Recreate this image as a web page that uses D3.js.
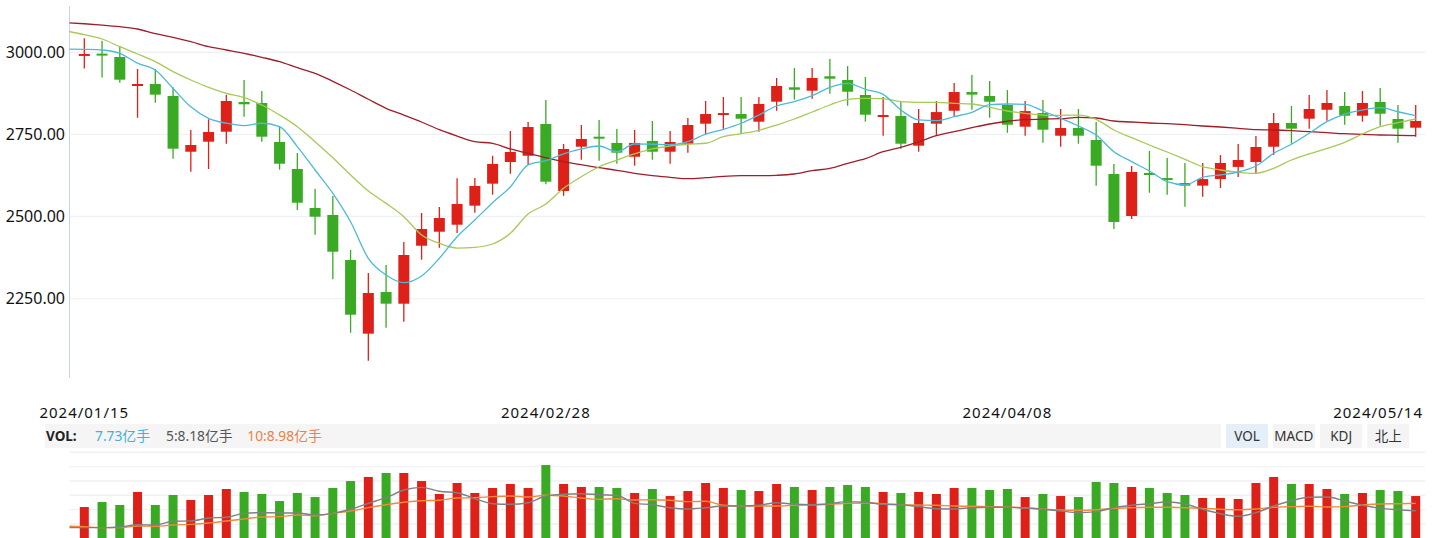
<!DOCTYPE html>
<html><head><meta charset="utf-8">
<script src="https://cdn.jsdelivr.net/npm/d3@7/dist/d3.min.js"></script>
<style>html,body{margin:0;padding:0;background:#fff;overflow:hidden}svg{display:block}</style>
</head><body><svg id="c" width="1438" height="538"></svg>
<script>
const dates = ["2024/01/15","2024/01/16","2024/01/17","2024/01/18","2024/01/19","2024/01/22","2024/01/23","2024/01/24","2024/01/25","2024/01/26","2024/01/29","2024/01/30","2024/01/31",
"2024/02/01","2024/02/02","2024/02/05","2024/02/06","2024/02/07","2024/02/08","2024/02/19","2024/02/20","2024/02/21","2024/02/22","2024/02/23","2024/02/26","2024/02/27","2024/02/28","2024/02/29",
"2024/03/01","2024/03/04","2024/03/05","2024/03/06","2024/03/07","2024/03/08","2024/03/11","2024/03/12","2024/03/13","2024/03/14","2024/03/15","2024/03/18","2024/03/19","2024/03/20","2024/03/21","2024/03/22","2024/03/25","2024/03/26","2024/03/27","2024/03/28","2024/03/29",
"2024/04/01","2024/04/02","2024/04/03","2024/04/08","2024/04/09","2024/04/10","2024/04/11","2024/04/12","2024/04/15","2024/04/16","2024/04/17","2024/04/18","2024/04/19","2024/04/22","2024/04/23","2024/04/24","2024/04/25","2024/04/26","2024/04/29","2024/04/30",
"2024/05/06","2024/05/07","2024/05/08","2024/05/09","2024/05/10","2024/05/13","2024/05/14"];

const open  = [2993,2996,2985.7,2901,2903.5,2867,2697.3,2727.8,2758.2,2848.7,2845.6,2726.9,2644.7,2526,2504.6,2367.5,2143.2,2270,2234.5,2411,2453.7,2475,2533,2600,2666,2685,2781.7,2577.7,2712.5,2743,2724,2682,2730,2697.3,2721.7,2782.6,2810,2812,2788.7,2849.6,2893.4,2883,2927,2915.7,2870,2804,2806,2715.6,2782.6,2822,2879,2867,2839.5,2773.5,2815,2746,2769.5,2733,2629.4,2501.5,2632.5,2617,2602,2594,2614,2651,2666,2712.5,2784.7,2797.8,2825,2836.5,2807,2848.7,2797,2770.4];
const high  = [3042.6,3035,3018,2949,2949,2893.4,2763.4,2796,2870.9,2915.7,2882,2772.5,2693.4,2584.6,2562.4,2398,2328,2352.3,2422.4,2510.7,2529,2616.3,2617,2685,2760.4,2787.8,2854.8,2720.8,2778.6,2793.9,2766.4,2763.4,2790.8,2760.4,2800,2851.7,2864,2864,2864,2921.7,2952,2952,2979.6,2958,2924.8,2864,2849.6,2827.4,2851.7,2906.5,2931,2912.6,2885,2851.7,2854.8,2827.4,2827.4,2787.8,2660,2653.8,2699.5,2678,2663,2663,2687,2721,2745,2815,2836.5,2870,2885,2879,2882,2891.3,2839.5,2839.5];
const low   = [2951,2923,2907,2801,2846.5,2676,2636.4,2644.7,2721.7,2804,2727.8,2642.5,2519.8,2444.6,2308.8,2146.2,2061,2161.4,2179.7,2368.5,2405,2449.8,2511.6,2566.4,2630.3,2657.7,2598,2563,2673,2670,2660.8,2654.7,2673,2660.8,2694.3,2749,2767,2753,2758,2822,2855.7,2858.7,2874,2837.4,2788.7,2746,2706.5,2697.3,2746,2804,2825,2801,2755,2746,2724.8,2712.5,2721.7,2594,2462,2492.4,2572.5,2566.4,2530,2560,2587,2620,2632.5,2687,2721.7,2767,2791.7,2779.5,2788.7,2776.5,2724.8,2743];
const close = [2995,2992,2916.6,2903.5,2871,2706.5,2717.7,2757.3,2851.7,2841.7,2743,2660.8,2542,2499.4,2392.8,2201,2267,2234.5,2382.8,2462,2495.4,2538,2593,2660,2696.4,2772.5,2606,2705.6,2736,2737,2694.3,2724,2697.3,2727,2778.6,2812,2815,2797.8,2842.6,2897.4,2886,2921.7,2919.6,2880,2810,2809,2721.7,2784.7,2818,2879,2871,2849.6,2779.5,2821,2764.3,2769.5,2746,2654.7,2483.3,2635.5,2627,2612,2594,2614,2663,2672,2711.6,2784.7,2767.4,2827.4,2845.6,2807,2845.6,2813,2767.4,2790.8];

// moving averages: first value belongs to the trading day before the visible window
const ma5  = [3010,3009,3007,2997,2967,2946,2890,2834,2799,2784,2776.5,2784,2773.5,2713,2641.6,2570.7,2484,2372.7,2322,2298.5,2319,2372.7,2438.5,2489.4,2542,2590,2657,2670,2690.5,2705.6,2714.7,2697.3,2720.8,2720,2718.6,2727.8,2751,2765.5,2784,2809,2836.5,2849.6,2868,2893.4,2905.6,2887.3,2872,2824.3,2794,2791.7,2804,2817.3,2840.4,2842.6,2841.7,2821.3,2799,2775.6,2748,2697.3,2667,2638.6,2606,2596,2619.4,2626.4,2635.5,2653.8,2692.5,2720,2753.4,2788.7,2812,2824.3,2831.3,2819,2807];
const ma10 = [3064.9,3053.6,3040.5,3017,2994.8,2971.4,2941,2915.7,2893.4,2875.2,2861.8,2839.5,2809,2773.5,2727.8,2679,2626.4,2577.7,2540,2499.4,2443.7,2418.4,2404,2406.2,2416.3,2448.9,2507.6,2538,2585.9,2621.2,2651.6,2672,2690.5,2705.6,2714.7,2720,2723,2743,2752.1,2762.5,2778.6,2796.9,2818.2,2839.5,2856.9,2860,2858.7,2849.6,2847.7,2847.7,2844.7,2842.6,2832.5,2821.3,2814.3,2809,2808.2,2809,2796,2763.4,2740,2717.7,2696.4,2674.2,2651.6,2641.6,2634.6,2631.6,2646.8,2672,2690.5,2707.7,2726,2751.2,2773.5,2785.6,2796.9];
const ma60 = [3090,3087,3083,3078,3071,3056.6,3045.7,3032.3,3017,3007,2997,2984.8,2971.4,2953,2936,2911.7,2885.2,2856.9,2829.5,2809,2787.8,2764.3,2745.1,2727.8,2722.9,2705.6,2692.5,2679,2666.9,2657.7,2648.6,2640.7,2631.6,2624.3,2619.4,2615.1,2618.2,2622.4,2624.3,2624.3,2625.5,2629.4,2639.5,2646.8,2662,2676,2697.3,2710.7,2726.9,2746,2758.2,2770.4,2781.7,2790,2794.8,2796.9,2797.8,2802,2800,2790.8,2787.8,2784.7,2782.6,2779.5,2775.6,2772.5,2768.6,2764.3,2763.4,2761.3,2758.2,2755.2,2752.1,2750.3,2748.2,2747.3,2746];

// volume (亿手)
const volume = [8.58,9.12,8.80,10.21,8.80,9.88,9.34,9.88,10.53,10.21,9.99,9.23,10.10,9.66,10.64,11.39,11.83,12.26,12.26,11.39,9.99,11.18,10.10,10.64,11.07,10.64,13.12,11.07,10.75,10.75,10.64,10.10,10.53,9.77,10.31,11.18,10.64,10.42,10.31,11.07,10.75,10.42,10.75,10.96,10.75,10.21,10.10,10.21,9.99,10.64,10.64,10.42,10.53,9.66,9.99,9.77,9.66,11.29,11.18,10.75,10.64,10.10,9.88,9.56,9.56,9.45,11.18,11.83,11.07,11.07,10.53,9.99,10.10,10.42,10.31,9.77];
const volMa5  = [6.35,6.35,6.35,6.42,6.67,6.64,7.04,7.07,7.39,7.47,7.90,7.97,7.94,7.94,7.72,7.90,8.34,8.98,9.59,10.42,10.71,10.28,10.13,9.48,8.94,8.88,9.05,9.77,9.96,10.02,9.91,9.85,8.98,8.83,8.51,8.37,8.51,8.69,8.69,8.77,9.05,8.88,8.83,8.94,9.16,9.09,8.88,8.83,8.62,8.40,8.37,8.51,8.55,8.55,8.48,8.34,8.15,7.97,8.08,8.51,8.77,8.94,9.12,8.91,8.34,7.86,7.58,7.97,8.69,9.26,9.63,9.66,9.23,8.77,8.44,8.29,8.18];
const volMa10 = [6.50,6.45,6.35,6.35,6.53,6.50,6.64,6.71,6.85,7.07,7.29,7.50,7.54,7.72,7.64,7.90,8.15,8.51,8.83,9.09,9.26,9.31,9.56,9.59,9.70,9.77,9.66,9.85,9.77,9.56,9.42,9.48,9.34,9.37,9.31,9.16,9.20,8.77,8.69,8.69,8.69,8.77,8.83,8.88,8.98,9.02,8.94,8.83,8.80,8.77,8.69,8.66,8.62,8.58,8.48,8.37,8.26,8.23,8.29,8.44,8.51,8.55,8.55,8.51,8.44,8.34,8.29,8.37,8.55,8.62,8.66,8.58,8.62,8.80,8.91,8.94,8.98];

const priceTicks = [3000, 2750, 2500, 2250];
const dateTicks = ["2024/01/15","2024/02/28","2024/04/08","2024/05/14"];
const volGrid = [6.75, 8.3, 9.85, 11.4, 12.95, 14.5];
const legendLabel = "VOL:";
const legendItems = [{t:"7.73亿手", c:"#45afd8"}, {t:"5:8.18亿手", c:"#555555"}, {t:"10:8.98亿手", c:"#ef8049"}];
const buttons = ["VOL","MACD","KDJ","北上"];

const UP = "#dd2118", DOWN = "#3aaa24";
const FONT = "'Microsoft YaHei','Noto Sans','Noto Sans CJK SC',sans-serif";

const svg = d3.select("#c");
const left = 69.5, right = 1425;
const x = d3.scaleLinear().domain([0, 75]).range([84.3, 1415.7]);
const y = d3.scaleLinear().domain([2000, 3141]).range([380.7, 6]);
const yv = d3.scaleLinear().domain([0, 16]).range([586.4, 438.4]);

const defs = svg.append("defs");
defs.append("clipPath").attr("id","mainClip").append("rect").attr("x",left).attr("y",0).attr("width",right-left).attr("height",381);
defs.append("clipPath").attr("id","volClip").append("rect").attr("x",left).attr("y",449).attr("width",right-left).attr("height",100);

// grid lines main
svg.append("g").selectAll("line").data(priceTicks).join("line")
  .attr("x1", left).attr("x2", right)
  .attr("y1", d => y(d)).attr("y2", d => y(d))
  .attr("stroke", "#eef1f6").attr("stroke-width", 1.4);

// y axis line
svg.append("line").attr("x1", left).attr("x2", left).attr("y1", 6).attr("y2", 378)
  .attr("stroke", "#c9d3e3").attr("stroke-width", 1);

// y labels
svg.append("g").selectAll("text").data(priceTicks).join("text")
  .attr("x", 65).attr("y", d => y(d) + 5.2)
  .attr("text-anchor", "end").attr("font-family", FONT).attr("font-size", 16).attr("fill", "#111")
  .text(d => d.toFixed(2));

// candles
const idx = d3.range(open.length);
const cg = svg.append("g").attr("clip-path","url(#mainClip)");
cg.selectAll("line.wick").data(idx).join("line").attr("class","wick")
  .attr("x1", i => x(i)).attr("x2", i => x(i))
  .attr("y1", i => y(high[i])).attr("y2", i => y(low[i]))
  .attr("stroke", i => close[i] >= open[i] ? UP : DOWN).attr("stroke-width", 1.3);
cg.selectAll("rect.body").data(idx).join("rect").attr("class","body")
  .attr("x", i => x(i) - 5.5).attr("width", 11)
  .attr("y", i => y(Math.max(open[i], close[i])))
  .attr("height", i => Math.max(2, Math.abs(y(open[i]) - y(close[i]))))
  .attr("fill", i => close[i] >= open[i] ? UP : DOWN);

// MA lines (index 0 = day before the window)
const maLine = d3.line().x((d, i) => x(i - 1)).y(d => y(d)).curve(d3.curveMonotoneX);
[[ma60, "#9e1f2a"], [ma10, "#a6c957"], [ma5, "#4db9da"]].forEach(([arr, col]) => {
  cg.append("path").datum(arr).attr("d", maLine).attr("fill", "none")
    .attr("stroke", col).attr("stroke-width", 1.3);
});

// date labels
svg.append("g").selectAll("text").data(dateTicks).join("text")
  .attr("x", (d, k) => k === dateTicks.length - 1 ? 1423 : x(dates.indexOf(d)))
  .attr("y", 418.3)
  .attr("text-anchor", (d, k) => k === dateTicks.length - 1 ? "end" : "middle")
  .attr("font-family", FONT).attr("font-size", 15).attr("letter-spacing", "1px").attr("fill", "#111")
  .text(d => d);

// legend band
svg.append("rect").attr("x", 45).attr("y", 424).attr("width", 1176).attr("height", 24).attr("fill", "#f5f5f5");
svg.append("text").attr("x", 46).attr("y", 440.5).attr("font-family", FONT).attr("font-size", 13.5)
  .attr("font-weight", "bold").attr("fill", "#222").text(legendLabel);
const legX = [95, 166, 247.3];
svg.append("g").selectAll("text").data(legendItems).join("text")
  .attr("x", (d, k) => legX[k]).attr("y", 440.5)
  .attr("font-family", FONT).attr("font-size", 13.8).attr("fill", d => d.c).text(d => d.t);

// buttons
const btnX = [1226, 1272.7, 1320, 1367.3], btnW = [42, 42.3, 42.3, 41.7];
const bg = svg.append("g");
buttons.forEach((b, k) => {
  bg.append("rect").attr("x", btnX[k]).attr("y", 424).attr("width", btnW[k]).attr("height", 24)
    .attr("fill", k === 0 ? "#e6eef8" : "#f4f4f5");
  bg.append("text").attr("x", btnX[k] + btnW[k] / 2).attr("y", 440.5).attr("text-anchor", "middle")
    .attr("font-family", FONT).attr("font-size", 13.5).attr("fill", "#333").text(b);
});

// volume grid
svg.append("g").selectAll("line").data(volGrid).join("line")
  .attr("x1", left).attr("x2", right)
  .attr("y1", d => yv(d)).attr("y2", d => yv(d))
  .attr("stroke", "#f0f1f4").attr("stroke-width", 1.4);

// volume bars
const vg = svg.append("g").attr("clip-path","url(#volClip)");
vg.selectAll("rect").data(idx).join("rect")
  .attr("x", i => x(i) - 4.5).attr("width", 9)
  .attr("y", i => yv(volume[i])).attr("height", i => yv(0) - yv(volume[i]))
  .attr("fill", i => close[i] >= open[i] ? UP : DOWN);

const vLine = d3.line().x((d, i) => x(i - 1)).y(d => yv(d)).curve(d3.curveMonotoneX);
[[volMa10, "#f0883e"], [volMa5, "#808080"]].forEach(([arr, col]) => {
  vg.append("path").datum(arr).attr("d", vLine).attr("fill", "none")
    .attr("stroke", col).attr("stroke-width", 1.4);
});
</script></body></html>
